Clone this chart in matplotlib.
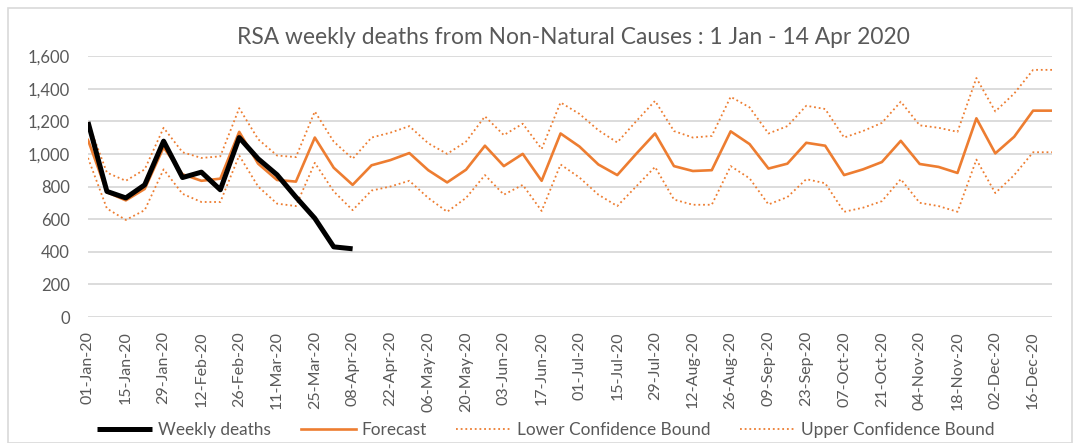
import matplotlib
matplotlib.use("Agg")
import matplotlib.pyplot as plt
import pandas as pd
from matplotlib.patches import Rectangle
from matplotlib.ticker import FuncFormatter

# weekly series, 01-Jan-20 to 23-Dec-20
weeks = pd.date_range("2020-01-01", periods=52, freq="7D")

weekly_deaths = [1195, 770, 730, 810, 1078, 855, 888, 780, 1100, 970,
                 872, 735, 605, 430, 418]

forecast = [1085, 765, 715, 785, 1040, 875, 835, 848, 1135, 940,
            840, 830, 1100, 915, 810, 930, 962, 1005, 900, 825,
            903, 1050, 925, 1000, 835, 1125, 1045, 935, 870, 1000,
            1125, 925, 895, 900, 1138, 1060, 910, 940, 1068, 1050,
            870, 905, 950, 1080, 938, 920, 883, 1218, 1003, 1105,
            1265, 1265]

lower = [975, 665, 595, 655, 905, 755, 705, 705, 990, 800,
         695, 680, 945, 770, 655, 775, 800, 835, 730, 645,
         730, 870, 750, 810, 650, 935, 855, 750, 680, 800,
         920, 720, 688, 688, 925, 850, 690, 735, 845, 820,
         645, 670, 710, 845, 700, 680, 645, 965, 760, 870,
         1010, 1010]

upper = [1195, 885, 835, 905, 1160, 1010, 975, 985, 1280, 1090,
         990, 980, 1260, 1075, 970, 1100, 1130, 1170, 1065, 1000,
         1075, 1230, 1115, 1185, 1030, 1315, 1245, 1145, 1070, 1200,
         1325, 1140, 1100, 1110, 1350, 1285, 1125, 1170, 1295, 1275,
         1100, 1140, 1190, 1320, 1175, 1160, 1135, 1465, 1260, 1370,
         1515, 1515]

tick_labels = [d.strftime("%d-%b-%y") for d in weeks[::2]]

ORANGE = "#ED7D31"
GREY = "#595959"
plt.rcParams["font.family"] = ["Lato", "DejaVu Sans"]

fig = plt.figure(figsize=(10.77, 4.43), dpi=100)
fig.patches.append(Rectangle((7.5 / 1077, 0), (1072 - 7.5) / 1077, (443 - 7.5) / 443,
                             transform=fig.transFigure, fill=False,
                             edgecolor="#d9d9d9", linewidth=1.2))

ax = fig.add_axes([88 / 1077, (443 - 317) / 443, (1052 - 88) / 1077, (317 - 56) / 443])
x = list(range(len(weeks)))

ax.plot(x, lower, color=ORANGE, lw=1.3, ls=(0, (1, 1.6)), label="Lower Confidence Bound")
ax.plot(x, upper, color=ORANGE, lw=1.3, ls=(0, (1, 1.6)), label="Upper Confidence Bound")
ax.plot(x, forecast, color=ORANGE, lw=1.9, label="Forecast")
ax.plot(x[:len(weekly_deaths)], weekly_deaths, color="black", lw=3.6,
        solid_capstyle="butt", label="Weekly deaths")

ax.set_xlim(0, len(weeks) - 1)
ax.set_ylim(0, 1600)
ax.set_yticks(range(0, 1601, 200))
ax.yaxis.set_major_formatter(FuncFormatter(lambda v, p: f"{int(v):,}"))
ax.set_xticks(x[::2])
ax.set_xticklabels(tick_labels, rotation=90)
ax.tick_params(axis="both", length=0, colors=GREY, labelsize=12)
ax.tick_params(axis="x", labelsize=11.5, pad=10)
ax.tick_params(axis="y", pad=13)
ax.grid(axis="y", color="#d9d9d9", lw=1.3)
ax.set_axisbelow(True)
for s in ax.spines.values():
    s.set_visible(False)

fig.text(573 / 1077, 1 - 37 / 443, "RSA weekly deaths from Non-Natural Causes : 1 Jan - 14 Apr 2020",
         ha="center", va="center", fontsize=16.4, color=GREY)

h, l = ax.get_legend_handles_labels()
order = [3, 2, 0, 1]
fig.legend([h[i] for i in order], [l[i] for i in order], loc="center",
           bbox_to_anchor=(546 / 1077, 1 - 430 / 443), ncol=4, frameon=False,
           fontsize=12.4, labelcolor=GREY, handlelength=3.2, columnspacing=1.7,
           handletextpad=0.35)

fig.savefig("out.png", dpi=100)
